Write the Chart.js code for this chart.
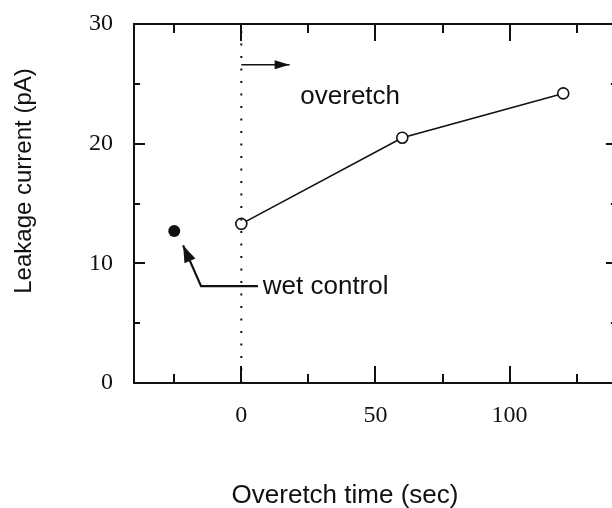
<!DOCTYPE html>
<html lang="en">
<head>
  <meta charset="UTF-8" />
  <title>Leakage current vs overetch time</title>
  <script src="https://cdn.jsdelivr.net/npm/chart.js"></script>
  <style>
    html, body {
      margin: 0;
      padding: 0;
      background: #fff;
      overflow: hidden;
    }

    .chart-box {
      position: relative;
      width: 624px;
      height: 508px;
    }
  </style>
</head>
<body>
  <div class="chart-box"><canvas id="leakChart"></canvas></div>

  <script>
    // measured series
    const overetchTime = [0, 60, 120];
    const overetchLeakage = [13.3, 20.5, 24.2];
    const wetControlTime = [-25];
    const wetControlLeakage = [12.7];

    // axes
    const xRange = [-40, 140];
    const yRange = [0, 30];
    const xMajorTicks = [0, 50, 100];
    const xMinorTicks = [-25, 25, 75, 125];
    const yMajorTicks = [0, 10, 20, 30];
    const yMinorTicks = [5, 15, 25];

    // annotation anchors (data units)
    const overetchArrow = [[0, 26.6], [18, 26.6]];
    const wetControlArrow = [[6.2, 8.1], [-15, 8.1], [-21.7, 11.5]];
    const overetchLabel = [22, 23.3];
    const wetControlLabel = [8, 7.4];

    const INK = "#111";
    const sans = "'Liberation Sans', Arial, sans-serif";
    const serif = "'Liberation Serif', 'Times New Roman', serif";

    function drawArrow(ctx, pts, headLen, headHalf) {
      ctx.beginPath();
      ctx.moveTo(pts[0][0], pts[0][1]);
      for (let i = 1; i < pts.length; i++) ctx.lineTo(pts[i][0], pts[i][1]);
      ctx.stroke();
      const [tx, ty] = pts[pts.length - 1];
      const [px, py] = pts[pts.length - 2];
      const a = Math.atan2(ty - py, tx - px);
      ctx.beginPath();
      ctx.moveTo(tx, ty);
      ctx.lineTo(tx - headLen * Math.cos(a) + headHalf * Math.sin(a), ty - headLen * Math.sin(a) - headHalf * Math.cos(a));
      ctx.lineTo(tx - headLen * Math.cos(a) - headHalf * Math.sin(a), ty - headLen * Math.sin(a) + headHalf * Math.cos(a));
      ctx.closePath();
      ctx.fill();
    }

    const framePlugin = {
      id: "frame",
      afterDatasetsDraw(chart) {
        const { ctx, chartArea: a, scales: { x, y } } = chart;
        ctx.save();
        ctx.strokeStyle = INK;
        ctx.fillStyle = INK;
        ctx.lineWidth = 2;

        // box
        ctx.strokeRect(a.left, a.top, a.right - a.left, a.bottom - a.top);

        // inward tick marks on all four sides
        ctx.beginPath();
        const xt = (list, len) => list.forEach(v => {
          const p = Math.round(x.getPixelForValue(v));
          ctx.moveTo(p, a.bottom); ctx.lineTo(p, a.bottom - len);
          ctx.moveTo(p, a.top); ctx.lineTo(p, a.top + len);
        });
        const yt = (list, len) => list.forEach(v => {
          const p = Math.round(y.getPixelForValue(v));
          ctx.moveTo(a.left, p); ctx.lineTo(a.left + len, p);
          ctx.moveTo(a.right, p); ctx.lineTo(a.right - len, p);
        });
        xt(xMajorTicks, 17);
        xt(xMinorTicks, 9);
        yt(yMajorTicks, 11);
        yt(yMinorTicks, 6);
        ctx.stroke();

        // arrows
        ctx.lineWidth = 1.6;
        const px = pts => pts.map(([vx, vy]) => [x.getPixelForValue(vx), y.getPixelForValue(vy)]);
        drawArrow(ctx, px(overetchArrow), 15, 4.5);
        ctx.lineWidth = 2.2;
        drawArrow(ctx, px(wetControlArrow), 17, 6);

        // annotation text
        ctx.font = "26px " + sans;
        ctx.textBaseline = "alphabetic";
        ctx.textAlign = "left";
        ctx.fillText("overetch", x.getPixelForValue(overetchLabel[0]), y.getPixelForValue(overetchLabel[1]));
        ctx.fillText("wet control", x.getPixelForValue(wetControlLabel[0]), y.getPixelForValue(wetControlLabel[1]));

        // axis titles
        ctx.textAlign = "center";
        ctx.fillText("Overetch time (sec)", 345, a.bottom + 120);
        ctx.font = "24px " + sans;
        ctx.translate(31, 181);
        ctx.rotate(-Math.PI / 2);
        ctx.fillText("Leakage current (pA)", 0, 0);
        ctx.restore();
      }
    };

    new Chart(document.getElementById("leakChart"), {
      type: "scatter",
      data: {
        datasets: [
          {
            // dotted marker at start of overetch
            data: yRange.map(v => ({ x: overetchTime[0], y: v })),
            showLine: true,
            borderColor: INK,
            borderWidth: 2,
            borderDash: [2, 10.5],
            pointRadius: 0
          },
          {
            data: overetchTime.map((t, i) => ({ x: t, y: overetchLeakage[i] })),
            showLine: true,
            borderColor: INK,
            borderWidth: 1.6,
            pointRadius: 5.5,
            pointBorderWidth: 1.6,
            pointBorderColor: INK,
            pointBackgroundColor: "#fff"
          },
          {
            data: wetControlTime.map((t, i) => ({ x: t, y: wetControlLeakage[i] })),
            pointRadius: 6,
            pointBorderWidth: 0,
            pointBackgroundColor: INK
          }
        ]
      },
      options: {
        responsive: true,
        maintainAspectRatio: false,
        animation: false,
        layout: { padding: { top: 24, right: 4, left: 0, bottom: 0 } },
        plugins: {
          legend: { display: false },
          tooltip: { enabled: false }
        },
        scales: {
          x: {
            type: "linear",
            min: xRange[0],
            max: xRange[1],
            afterBuildTicks: axis => { axis.ticks = xMajorTicks.map(v => ({ value: v })); },
            afterFit: axis => {
              axis.height = 125;
              axis.paddingLeft = 0;
              axis.paddingRight = 0;
            },
            grid: { display: false, drawTicks: false },
            border: { display: false },
            ticks: {
              padding: 18,
              color: INK,
              font: { family: serif, size: 24 }
            }
          },
          y: {
            type: "linear",
            min: yRange[0],
            max: yRange[1],
            afterBuildTicks: axis => { axis.ticks = yMajorTicks.map(v => ({ value: v })); },
            afterFit: axis => {
              axis.width = 134;
              axis.paddingTop = 0;
              axis.paddingBottom = 0;
            },
            grid: { display: false, drawTicks: false },
            border: { display: false },
            ticks: {
              padding: 21,
              color: INK,
              font: { family: serif, size: 24 }
            }
          }
        }
      },
      plugins: [framePlugin]
    });
  </script>
</body>
</html>
